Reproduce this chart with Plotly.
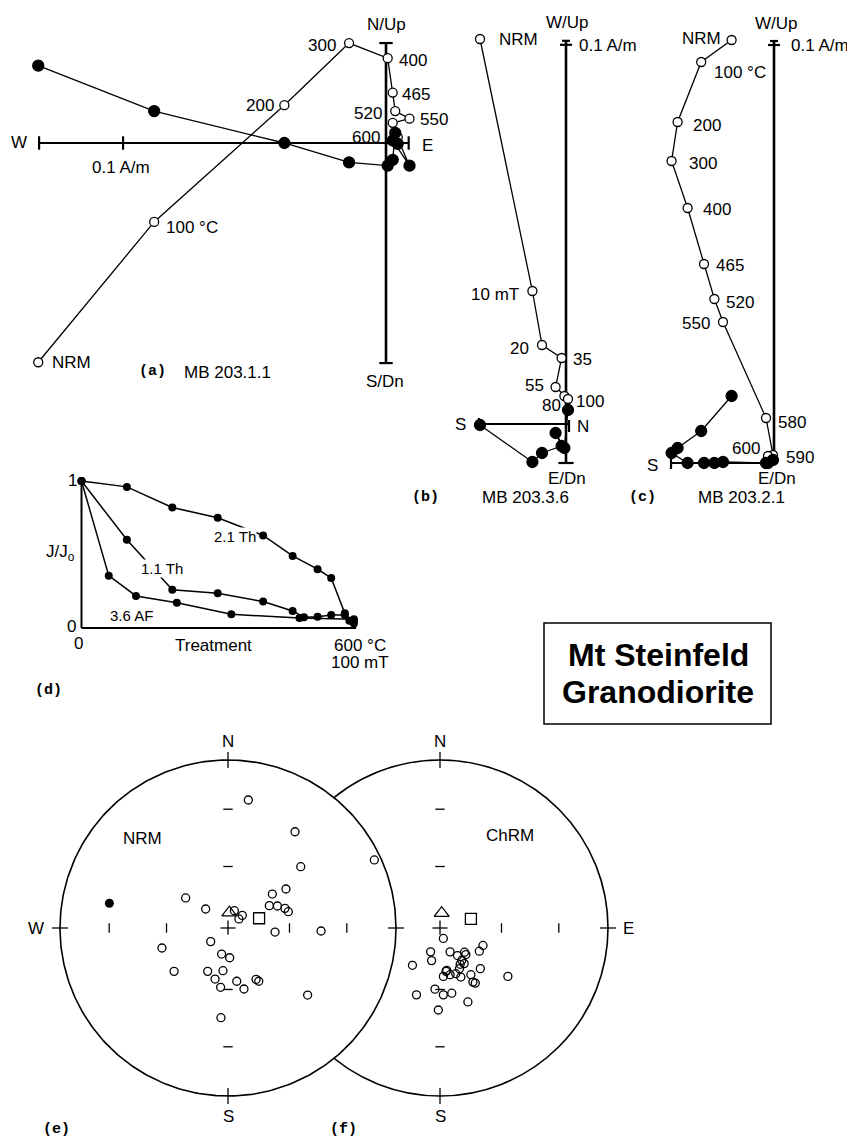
import numpy as np
import plotly.graph_objects as go

PW, PH = 855, 1138          # page (window) size
OFF = 8                     # default body margin of the written html page
W, H = PW - OFF, PH - OFF   # figure size
FONT = "Liberation Sans, Arial, Helvetica, sans-serif"
MONO = "Liberation Mono, Courier New, monospace"

# ======================= DATA =======================
# (a) MB 203.1.1 - thermal demagnetization, components in A/m
a_steps = ["NRM", "100 °C", "200", "300", "400", "465", "520", "550", "580", "600"]
a_east = [-0.414, -0.276, -0.121, -0.044, 0.002, 0.008, 0.011, 0.028, 0.008, 0.014]
a_up = [-0.261, -0.094, 0.045, 0.119, 0.101, 0.060, 0.038, 0.029, 0.024, 0.007]
a_north = [0.092, 0.038, 0.000, -0.023, -0.027, -0.020, 0.012, -0.027, 0.003, -0.001]

# (b) MB 203.3.6 - AF demagnetization, components in A/m
b_steps = ["NRM", "10 mT", "20", "35", "55", "80", "100"]
b_north = [-2.15, -0.84, -0.60, -0.11, -0.26, -0.04, 0.05]
b_up = [9.625, 3.325, 1.975, 1.65, 0.925, 0.70, 0.625]
b_west = [-0.025, -0.95, -0.725, -0.55, -0.225, -0.60, 0.35]

# (c) MB 203.2.1 - thermal demagnetization, components in A/m
c_steps = ["NRM", "100 °C", "200", "300", "400", "465", "520", "550", "580", "590", "600"]
c_north = [-1.06, -1.82, -2.41, -2.56, -2.16, -1.75, -1.49, -1.275, -0.20, -0.025, -0.15]
c_up = [10.575, 10.025, 8.525, 7.55, 6.375, 4.975, 4.10, 3.525, 1.125, 0.20, 0.175]
c_west = [1.675, 0.80, 0.375, 0.25, 0.0, 0.0, 0.0, 0.025, 0.0, 0.075, 0.0]

# (d) normalised intensity decay curves
d_th21_T = [0, 100, 200, 300, 400, 465, 520, 550, 580, 590, 600]
d_th21_J = [1.0, 0.96, 0.82, 0.75, 0.63, 0.49, 0.40, 0.34, 0.10, 0.05, 0.03]
d_th11_T = [0, 100, 200, 300, 400, 465, 490, 520, 550, 580, 600]
d_th11_J = [1.0, 0.60, 0.26, 0.236, 0.18, 0.116, 0.073, 0.077, 0.088, 0.088, 0.05]
d_af36_mT = [0, 10, 20, 35, 55, 80, 100]
d_af36_J = [1.0, 0.356, 0.218, 0.172, 0.093, 0.068, 0.06]

# (e) NRM directions, equal-area projected coordinates (unit radius; +x = E, +y = N)
e_open_x = [0.121, 0.399, 0.871, 0.433, 0.345, 0.264, -0.252, 0.246, 0.294, 0.339, 0.359,
            -0.133, 0.038, 0.085, 0.065, 0.280, 0.554, -0.103, -0.393, -0.038, 0.010,
            -0.321, -0.121, -0.030, -0.077, -0.044, 0.052, 0.095, 0.167, 0.183, 0.474, -0.042]
e_open_y = [0.762, 0.573, 0.405, 0.365, 0.232, 0.202, 0.179, 0.133, 0.131, 0.117, 0.097,
            0.113, 0.103, 0.075, 0.054, -0.024, -0.018, -0.081, -0.119, -0.155, -0.177,
            -0.258, -0.258, -0.254, -0.304, -0.353, -0.317, -0.363, -0.306, -0.317, -0.399, -0.534]
e_fill_x = [-0.706]
e_fill_y = [0.147]
e_tri = [0.008, 0.091]
e_sq = [0.185, 0.058]

# (f) ChRM directions, equal-area projected coordinates
f_open_x = [0.020, 0.256, 0.234, -0.056, 0.060, 0.104, 0.146, 0.154, -0.050, 0.130, 0.120,
            0.144, -0.164, 0.240, 0.116, 0.036, 0.020, 0.060, 0.094, 0.124, 0.184, 0.404,
            0.196, 0.210, -0.030, -0.140, 0.020, 0.070, 0.166, -0.010, 0.040]
f_open_y = [-0.062, -0.104, -0.138, -0.142, -0.142, -0.164, -0.144, -0.158, -0.194, -0.192, -0.216,
            -0.212, -0.222, -0.242, -0.242, -0.258, -0.288, -0.278, -0.272, -0.292, -0.278, -0.288,
            -0.322, -0.328, -0.364, -0.398, -0.398, -0.388, -0.440, -0.488, -0.252]
f_tri = [0.010, 0.088]
f_sq = [0.184, 0.054]

# ======================= LAYOUT HELPERS =======================
fig = go.Figure()
axes_layout = {}
shapes = []
ann = []


def fx(px):
    return (px - OFF) / W


def fy(py):
    return 1 - (py - OFF) / H


def setup_axes(i, ox, oy, sx, sy, L, R, T, B):
    """Axis pair whose data origin sits at page pixel (ox, oy), sx/sy pixels per unit."""
    xid = "x" if i == 1 else f"x{i}"
    yid = "y" if i == 1 else f"y{i}"
    axes_layout["xaxis" if i == 1 else f"xaxis{i}"] = dict(
        domain=[fx(L), fx(R)], range=[(L - ox) / sx, (R - ox) / sx],
        visible=False, fixedrange=True, anchor=yid)
    axes_layout["yaxis" if i == 1 else f"yaxis{i}"] = dict(
        domain=[fy(B), fy(T)], range=[(oy - B) / sy, (oy - T) / sy],
        visible=False, fixedrange=True, anchor=xid)
    return xid, yid


def seg(xr, yr, x0, y0, x1, y1, w=2.2, layer="below"):
    shapes.append(dict(type="line", xref=xr, yref=yr, x0=x0, y0=y0, x1=x1, y1=y1,
                       line=dict(color="black", width=w), layer=layer))


def ptxt(px, py, s, size=17, xanchor="center", family=FONT, bg=None):
    d = dict(x=fx(px), y=fy(py), xref="paper", yref="paper", text=s, showarrow=False,
             xanchor=xanchor, yanchor="middle", font=dict(family=family, size=size, color="black"))
    if bg:
        d.update(bgcolor=bg, borderpad=0)
    ann.append(d)


def dtxt(xr, yr, x, y, s, size=17, dx=0, dy=0):
    ann.append(dict(x=x, y=y, xref=xr, yref=yr, text=s, showarrow=False, xshift=dx, yshift=-dy,
                    xanchor="center", yanchor="middle",
                    font=dict(family=FONT, size=size, color="black")))


def zij(xr, yr, x, y, filled, size):
    fig.add_trace(go.Scatter(
        x=x, y=y, xaxis=xr, yaxis=yr, mode="lines+markers", cliponaxis=False,
        line=dict(color="black", width=1.3),
        marker=dict(symbol="circle", size=size, color="black" if filled else "white",
                    line=dict(color="black", width=1.3)),
        showlegend=False, hoverinfo="skip"))


# ======================= (a) =======================
xa, ya = setup_axes(1, 386, 143, 840, 840, 8, 450, 8, 400)
a_ext = dict(w=-0.413, e=0.027, up=0.119, dn=-0.262, cap=0.008, bar=0.1)
seg(xa, ya, a_ext["w"], 0, a_ext["e"], 0)
seg(xa, ya, 0, a_ext["dn"], 0, a_ext["up"], w=2.6)
seg(xa, ya, a_ext["w"], -a_ext["cap"], a_ext["w"], a_ext["cap"])
seg(xa, ya, a_ext["w"] + a_ext["bar"], -a_ext["cap"], a_ext["w"] + a_ext["bar"], a_ext["cap"])
seg(xa, ya, a_ext["e"], -a_ext["cap"], a_ext["e"], a_ext["cap"])
seg(xa, ya, -a_ext["cap"], a_ext["up"], a_ext["cap"], a_ext["up"])
seg(xa, ya, -a_ext["cap"], a_ext["dn"], a_ext["cap"], a_ext["dn"])
zij(xa, ya, a_east, a_up, False, 9)
zij(xa, ya, a_east, a_north, True, 11)
a_lab = ["NRM", "100 °C", "200", "300", "400", "465", "520", "550", "", "600"]
a_off = [(33, 0), (38, 6), (-24, 0), (-27, 2), (25, 2), (23, 2), (-27, 2), (24, 1), (0, 0), (-32, 0)]
for x, y, s, (ddx, ddy) in zip(a_east, a_up, a_lab, a_off):
    if s:
        dtxt(xa, ya, x, y, s, dx=ddx, dy=ddy)
ptxt(386, 25, "N/Up")
ptxt(385, 381, "S/Dn")
ptxt(19, 143, "W")
ptxt(427, 145, "E")
ptxt(121, 167, "0.1 A/m")
ptxt(152, 372, "<b>(a)</b>", size=15, family=MONO)
ptxt(228, 373, "MB 203.1.1")

# ======================= (b) =======================
xb, yb = setup_axes(2, 566, 424, 40, 40, 440, 620, 8, 510)
b_ext = dict(s=-2.175, n=0.075, up=9.58, dn=-0.975)
seg(xb, yb, 0, b_ext["dn"], 0, b_ext["up"], w=2.6)
seg(xb, yb, -0.1, b_ext["up"], 0.1, b_ext["up"])
seg(xb, yb, -0.15, b_ext["up"] - 0.1, 0.15, b_ext["up"] - 0.1)
seg(xb, yb, -0.19, b_ext["dn"], 0.19, b_ext["dn"])
seg(xb, yb, b_ext["s"], 0, b_ext["n"], 0)
seg(xb, yb, b_ext["s"], -0.15, b_ext["s"], 0.15)
seg(xb, yb, b_ext["n"], -0.2, b_ext["n"], 0.1)
zij(xb, yb, b_north, b_up, False, 9)
zij(xb, yb, b_north, b_west, True, 11)
b_off = [(38, 0), (-37, 3), (-23, 3), (21, 1), (-21, -2), (-13, 9), (22, 2)]
for x, y, s, (ddx, ddy) in zip(b_north, b_up, b_steps, b_off):
    dtxt(xb, yb, x, y, s, dx=ddx, dy=ddy)
ptxt(567, 22, "W/Up")
ptxt(577, 46, "0.1 A/m", xanchor="left")
ptxt(567, 479, "E/Dn")
ptxt(460, 424, "S")
ptxt(583, 427, "N")
ptxt(425, 497, "<b>(b)</b>", size=15, family=MONO)
ptxt(525, 497, "MB 203.3.6")

# ======================= (c) =======================
xc, yc = setup_axes(3, 774, 463, 40, 40, 615, 855, 8, 510)
c_ext = dict(s=-2.575, n=0.1, up=10.55)
seg(xc, yc, 0, 0, 0, c_ext["up"], w=2.6)
seg(xc, yc, -0.1, c_ext["up"], 0.1, c_ext["up"])
seg(xc, yc, -0.15, c_ext["up"] - 0.1, 0.15, c_ext["up"] - 0.1)
seg(xc, yc, c_ext["s"], 0, c_ext["n"], 0)
seg(xc, yc, c_ext["s"], -0.15, c_ext["s"], 0.15)
zij(xc, yc, c_north, c_up, False, 9)
zij(xc, yc, c_north, c_west, True, 11)
c_off = [(-30, -2), (39, 10), (29, 3), (31, 2), (29, 1), (26, 1), (26, 3), (-27, 1), (26, 4), (27, 2), (-22, -8)]
for x, y, s, (ddx, ddy) in zip(c_north, c_up, c_steps, c_off):
    dtxt(xc, yc, x, y, s, dx=ddx, dy=ddy)
ptxt(776, 23, "W/Up")
ptxt(789, 46, "0.1 A/m", xanchor="left")
ptxt(777, 479, "E/Dn")
ptxt(652, 465, "S")
ptxt(642, 497, "<b>(c)</b>", size=15, family=MONO)
ptxt(741, 497, "MB 203.2.1")

# ======================= (d) =======================
xd, yd = setup_axes(4, 81.5, 628, 0.454, 147, 8, 420, 460, 710)
seg(xd, yd, 0, 0, 0, 1, w=2)
seg(xd, yd, 0, 0, 605, 0, w=2)
AF_TO_T = 600 / 100  # 100 mT plotted at the same position as 600 °C
for xs, ys in [(d_th21_T, d_th21_J), (d_th11_T, d_th11_J),
               ([v * AF_TO_T for v in d_af36_mT], d_af36_J)]:
    fig.add_trace(go.Scatter(x=xs, y=ys, xaxis=xd, yaxis=yd, mode="lines+markers", cliponaxis=False,
                             line=dict(color="black", width=1.5),
                             marker=dict(symbol="circle", size=8, color="black"),
                             showlegend=False, hoverinfo="skip"))
ptxt(72, 481, "1")
ptxt(71, 626, "0")
ptxt(78, 643, "0")
ptxt(213, 645, "Treatment")
ptxt(360, 645, "600 °C")
ptxt(360, 662, "100 mT")
ptxt(60, 553, "J/J<sub>o</sub>")
ptxt(235, 536, "2.1 Th", size=15, bg="white")
ptxt(162, 568, "1.1 Th", size=15, bg="white")
ptxt(132, 615, "3.6 AF", size=15)
ptxt(48, 690, "<b>(d)</b>", size=15, family=MONO)

# ======================= Title box =======================
shapes.append(dict(type="rect", xref="paper", yref="paper", x0=fx(544), x1=fx(771),
                   y0=fy(724), y1=fy(623), line=dict(color="black", width=1.5),
                   fillcolor="rgba(0,0,0,0)", layer="above"))
ptxt(658, 655, "<b>Mt Steinfeld</b>", size=32)
ptxt(658, 692, "<b>Granodiorite</b>", size=32)

# ======================= Stereonets =======================
def eqarea_r(inc_deg):
    return np.sqrt(2) * np.sin(np.radians((90 - inc_deg) / 2))


R_TICKS = [eqarea_r(30), eqarea_r(60)]
TK = 0.028
EDGE = 0.048


def net_decor(xr, yr, layer, labels):
    for r in R_TICKS:
        for sgn in (1, -1):
            seg(xr, yr, -TK, sgn * r, TK, sgn * r, w=1.3, layer=layer)
            seg(xr, yr, sgn * r, -TK, sgn * r, TK, w=1.3, layer=layer)
    seg(xr, yr, 0, 1 - EDGE, 0, 1 + EDGE, w=1.3, layer=layer)
    seg(xr, yr, 0, -1 - EDGE, 0, -1 + EDGE, w=1.3, layer=layer)
    seg(xr, yr, 1 - EDGE, 0, 1 + EDGE, 0, w=1.3, layer=layer)
    seg(xr, yr, -1 - EDGE, 0, -1 + EDGE, 0, w=1.3, layer=layer)
    seg(xr, yr, -0.045, 0, 0.045, 0, w=1.3, layer=layer)
    seg(xr, yr, 0, -0.04, 0, 0.045, w=1.3, layer=layer)
    for s, x, y in labels:
        dtxt(xr, yr, x, y, s)


def directions(xr, yr, ox, oy, tri, sq, fxs=None, fys=None):
    fig.add_trace(go.Scatter(x=ox, y=oy, xaxis=xr, yaxis=yr, mode="markers", cliponaxis=False,
                             marker=dict(symbol="circle-open", size=8, color="black",
                                         line=dict(width=1.3)),
                             showlegend=False, hoverinfo="skip"))
    if fxs is not None:
        fig.add_trace(go.Scatter(x=fxs, y=fys, xaxis=xr, yaxis=yr, mode="markers", cliponaxis=False,
                                 marker=dict(symbol="circle", size=9, color="black"),
                                 showlegend=False, hoverinfo="skip"))
    fig.add_trace(go.Scatter(x=[tri[0]], y=[tri[1]], xaxis=xr, yaxis=yr, mode="markers",
                             cliponaxis=False,
                             marker=dict(symbol="triangle-up-open", size=13, color="black",
                                         line=dict(width=1.3)),
                             showlegend=False, hoverinfo="skip"))
    fig.add_trace(go.Scatter(x=[sq[0]], y=[sq[1]], xaxis=xr, yaxis=yr, mode="markers",
                             cliponaxis=False,
                             marker=dict(symbol="square-open", size=11, color="black",
                                         line=dict(width=1.3)),
                             showlegend=False, hoverinfo="skip"))


# (f) drawn first (lower subplot) so that (e) covers its arc
xf, yf = setup_axes(5, 440, 928, 168, 168, 250, 655, 725, 1136)
shapes.append(dict(type="circle", xref=xf, yref=yf, x0=-1, y0=-1, x1=1, y1=1,
                   line=dict(color="black", width=1.6), fillcolor="white", layer="below"))
net_decor(xf, yf, "below", [("N", 0, 1.11), ("S", 0, -1.12), ("E", 1.12, 0), ("ChRM", 0.417, 0.548)])
directions(xf, yf, f_open_x, f_open_y, f_tri, f_sq)

xe, ye = setup_axes(6, 228, 928, 168, 168, 15, 418, 725, 1136)
th = np.linspace(0, 2 * np.pi, 361)
fig.add_trace(go.Scatter(x=np.cos(th), y=np.sin(th), xaxis=xe, yaxis=ye, mode="lines",
                         fill="toself", fillcolor="white", line=dict(color="black", width=1.6),
                         cliponaxis=False, showlegend=False, hoverinfo="skip"))
net_decor(xe, ye, "above", [("N", 0, 1.11), ("S", 0, -1.12), ("W", -1.14, 0), ("NRM", -0.506, 0.530)])
directions(xe, ye, e_open_x, e_open_y, e_tri, e_sq, e_fill_x, e_fill_y)

ptxt(56, 1129, "<b>(e)</b>", size=15, family=MONO)
ptxt(343, 1129, "<b>(f)</b>", size=15, family=MONO)

fig.update_layout(
    width=W, height=H, margin=dict(l=0, r=0, t=0, b=0),
    paper_bgcolor="white", plot_bgcolor="rgba(0,0,0,0)",
    showlegend=False, shapes=shapes, annotations=ann, **axes_layout)

fig.write_html("out.html")
